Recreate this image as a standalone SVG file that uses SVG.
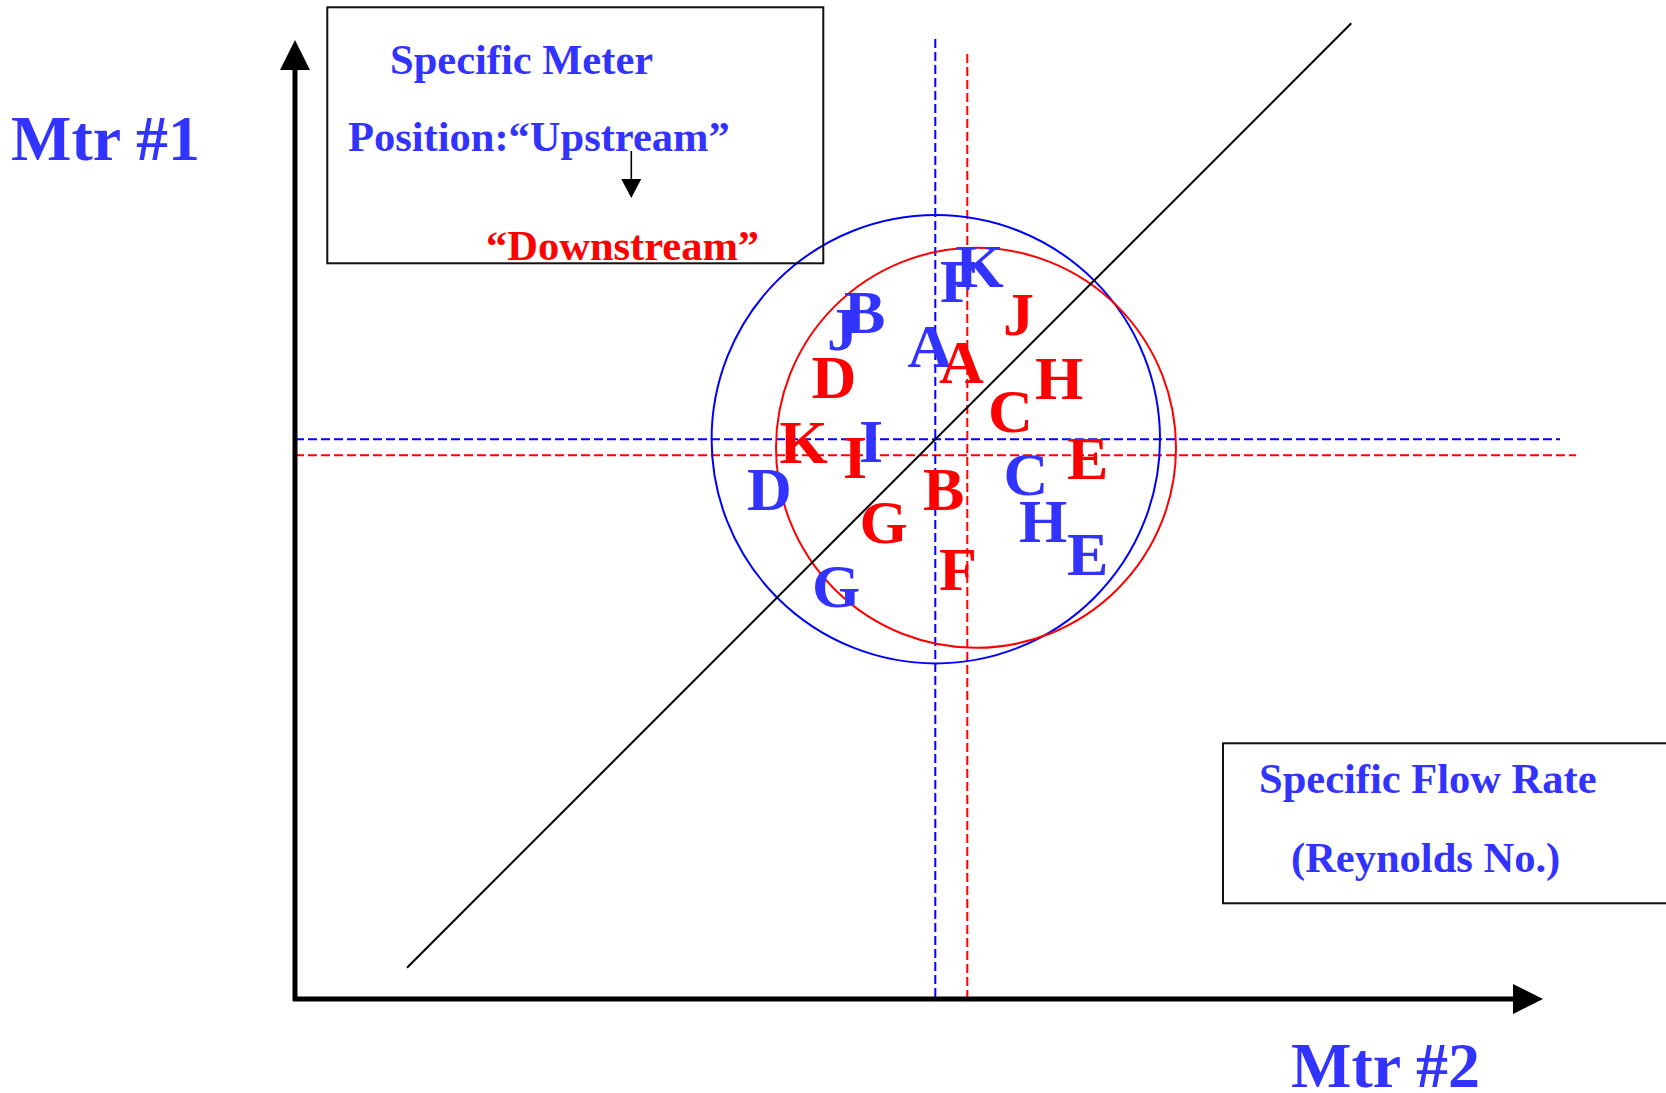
<svg xmlns="http://www.w3.org/2000/svg" width="1666" height="1093" viewBox="0 0 1666 1093">
<style>
.t{font-family:"Liberation Serif","Times New Roman",serif;font-weight:bold}
.bt{fill:#3333ff}
.rt{fill:#ff0000}
.lbl{font-size:42.5px}
.big{font-size:64px}
.ltr{font-size:62px}
.box{fill:none;stroke:#111;stroke-width:2}
.dashb{stroke:#0000ff;stroke-width:2;stroke-dasharray:9 4;fill:none}
.dashr{stroke:#ff0000;stroke-width:2;stroke-dasharray:9 4;fill:none}
</style>
<defs>
<marker id="ah" markerUnits="userSpaceOnUse" markerWidth="30" markerHeight="30" refX="0" refY="15" orient="auto"><path d="M0,0 L30,15 L0,30 z" fill="#000"/></marker>
<marker id="ahs" markerUnits="userSpaceOnUse" markerWidth="20" markerHeight="20" refX="0" refY="10" orient="auto"><path d="M0,0 L19,10 L0,20 z" fill="#000"/></marker>
</defs>
<rect width="1666" height="1093" fill="#fff"/>

<g id="guides">
<line class="dashb" x1="295" y1="439.3" x2="1560" y2="439.3"/>
<line class="dashr" x1="295" y1="455.3" x2="1576" y2="455.3"/>
<line class="dashb" x1="935.3" y1="39" x2="935.3" y2="999"/>
<line class="dashr" x1="967.3" y1="54" x2="967.3" y2="999"/>
<circle cx="935.8" cy="439.2" r="224.2" fill="none" stroke="#0000ff" stroke-width="2"/>
<circle cx="976" cy="447.8" r="200" fill="none" stroke="#ff0000" stroke-width="2"/>
<line x1="407" y1="967.7" x2="1351.3" y2="23.3" stroke="#000" stroke-width="2"/>
</g>

<g id="connectors">
<line x1="295" y1="1001" x2="295" y2="70" stroke="#000" stroke-width="5" marker-end="url(#ah)"/>
<line x1="293" y1="999" x2="1513" y2="999" stroke="#000" stroke-width="5" marker-end="url(#ah)"/>
<line x1="631.3" y1="151" x2="631.3" y2="179" stroke="#000" stroke-width="1.6" marker-end="url(#ahs)"/>
</g>

<g id="axis-y-label"><text class="t bt big" x="11" y="159.5">Mtr #1</text></g>
<g id="axis-x-label"><text class="t bt big" x="1291" y="1086.5">Mtr #2</text></g>

<g id="meter-box">
<rect class="box" x="327.3" y="7.3" width="496" height="256"/>
<text class="t bt lbl" x="390" y="74">Specific Meter</text>
<text class="t bt lbl" x="348" y="150.7">Position:“Upstream”</text>
<text class="t rt lbl" x="486" y="260">“Downstream”</text>
</g>

<g id="flow-box">
<rect class="box" x="1223" y="743.3" width="460" height="160"/>
<text class="t bt lbl" x="1259" y="793.3">Specific Flow Rate</text>
<text class="t bt lbl" x="1291" y="871.7">(Reynolds No.)</text>
</g>

<g id="blue-points" class="t bt ltr">
<text x="940" y="301.7">F</text>
<text x="955.5" y="286.7">K</text>
<text x="827" y="350">J</text>
<text x="844" y="333.3">B</text>
<text x="907.5" y="366.7">A</text>
<text x="859" y="461.7">I</text>
<text x="747" y="510">D</text>
<text x="1003.5" y="495">C</text>
<text x="1019" y="542.3">H</text>
<text x="1067" y="575">E</text>
<text x="812" y="607.3">G</text>
</g>

<g id="red-points" class="t rt ltr">
<text x="1003" y="335">J</text>
<text x="939" y="383.3">A</text>
<text x="811.5" y="398.3">D</text>
<text x="1035" y="399">H</text>
<text x="988" y="431.7">C</text>
<text x="779.5" y="463.3">K</text>
<text x="843" y="478.3">I</text>
<text x="1067" y="479">E</text>
<text x="923" y="510">B</text>
<text x="859.5" y="543.3">G</text>
<text x="939" y="590">F</text>
</g>
</svg>
